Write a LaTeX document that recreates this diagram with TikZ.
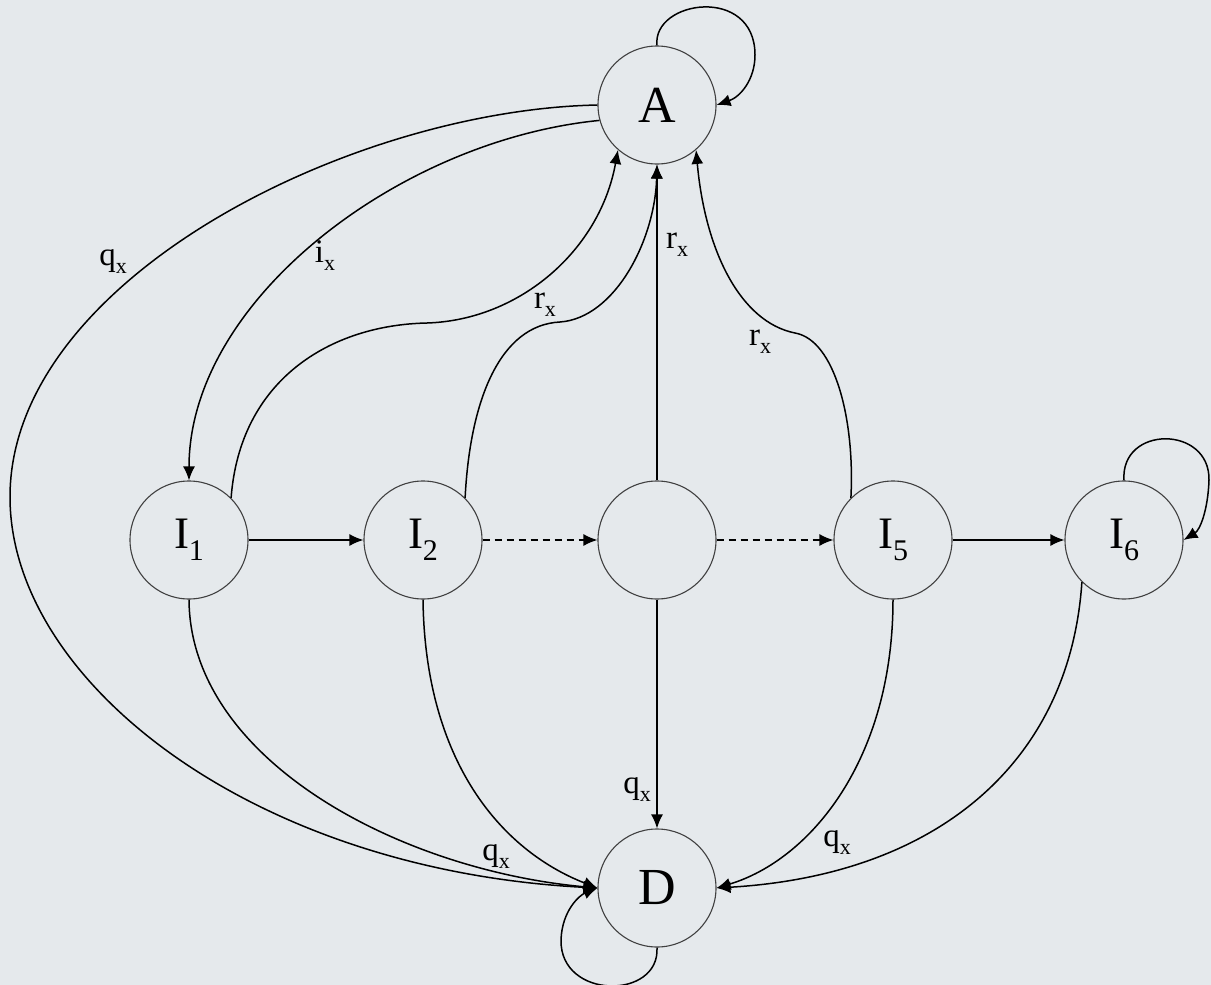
\documentclass[tikz,border=0pt]{standalone}
\usepackage{fontspec}
\setmainfont{Liberation Serif}
\usetikzlibrary{arrows.meta}
\definecolor{bg}{RGB}{229,233,236}
\newcommand\lbl[2]{{\fontsize{33}{33}\selectfont #1\raisebox{-8pt}{\fontsize{22}{22}\selectfont #2}}}
\newcommand\stn[2]{#1\raisebox{-12pt}{\fontsize{30}{30}\selectfont #2}}
\begin{document}
\begin{tikzpicture}[x=1pt,y=-1pt,
  state/.style={circle,draw=black!75,line width=1.1pt,minimum size=118pt,inner sep=0pt,font=\fontsize{45}{45}\selectfont},
  big/.style={font=\fontsize{52}{52}\selectfont},
  edge/.style={line width=1.5pt,-{Latex[length=14pt,width=12pt]}},
  dashedge/.style={edge,dash pattern=on 7pt off 5pt},
  lab/.style={inner sep=0pt}]
\fill[bg] (0,0) rectangle (1211,985);
\useasboundingbox (0,0) rectangle (1211,985);

\node[state,big] (A) at (657,105) {A};
\node[state,big] (D) at (657,888) {D};
\node[state] (I1) at (189,540) {\stn{I}{1}};
\node[state] (I2) at (423,540) {\stn{I}{2}};
\node[state] (C)  at (657,540) {};
\node[state] (I5) at (893,540) {\stn{I}{5}};
\node[state] (I6) at (1124,540) {\stn{I}{6}};

% horizontal chain
\draw[edge] (I1) -- (I2);
\draw[dashedge] (I2) -- (C);
\draw[dashedge] (C) -- (I5);
\draw[edge] (I5) -- (I6);

% vertical
\draw[edge] (C) -- (A);
\draw[edge] (C) -- (D);

% self loops
\draw[edge] (A.north) .. controls (652,0) and (755,-15) .. (755,55) .. controls (755,80) and (740,97) .. (A.east);
\draw[edge] (I6.north) .. controls (1120,425) and (1210,425) .. (1209,480) .. controls (1208,510) and (1200,530) .. (I6.east);
\draw[edge] (D.south) .. controls (660,1000) and (560,1000) .. (561,940) .. controls (562,910) and (580,895) .. (D.west);

% A -> I1 (i_x)
\draw[edge] (A.195) .. controls (400,140) and (189,300) .. (I1.north);
% A -> D big (q_x)
\draw[edge] (A.west) .. controls (350,110) and (10,280) .. (10,497) .. controls (10,680) and (250,870) .. (D.west);

% r_x curves into A
\draw[edge] (I1.45) .. controls (240,380) and (330,325) .. (427,323) .. controls (520,320) and (600,250) .. (A.229);
\draw[edge] (I2.45) .. controls (470,400) and (500,325) .. (560,322) .. controls (615,318) and (655,240) .. (A.south);
\draw[edge] (I5.135) .. controls (855,420) and (835,340) .. (795,333) .. controls (740,322) and (705,250) .. (A.311);

% q_x curves into D
\draw[edge] (I1.south) .. controls (190,760) and (400,870) .. (D.west);
\draw[edge] (I2.south) .. controls (425,760) and (500,850) .. (D.west);
\draw[edge] (I5.south) .. controls (893,760) and (810,860) .. (D.east);
\draw[edge] (I6.225) .. controls (1070,760) and (940,875) .. (D.east);

% labels
\node[lab] (l1) at (113,262) {\lbl{q}{x}};
\node[lab] (l2) at (325,256) {\lbl{i}{x}};
\node[lab] (l3) at (545,305) {\lbl{r}{x}};
\node[lab] (l4) at (677,245) {\lbl{r}{x}};
\node[lab] (l5) at (760,342) {\lbl{r}{x}};
\node[lab] (l6) at (637,790) {\lbl{q}{x}};
\node[lab] (l7) at (496,857) {\lbl{q}{x}};
\node[lab] (l8) at (837,843) {\lbl{q}{x}};
\end{tikzpicture}
\end{document}
